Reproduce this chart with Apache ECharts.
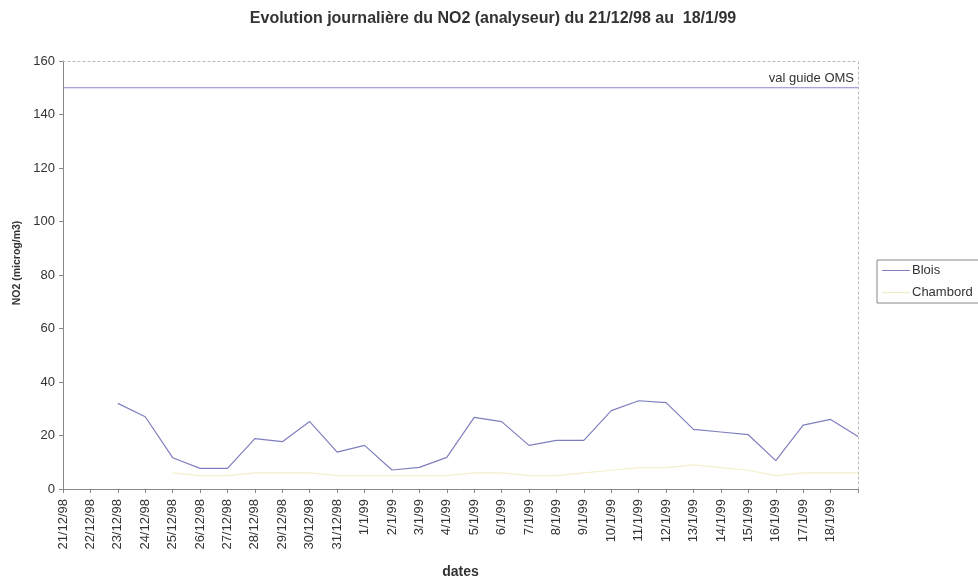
<!DOCTYPE html>
<html>
<head>
<meta charset="utf-8">
<script src="https://cdn.jsdelivr.net/npm/echarts@6/dist/echarts.min.js"></script>
<style>
  html, body { margin: 0; padding: 0; background: #fff; }
  #chart { width: 978px; height: 580px; }
</style>
</head>
<body>
<div id="chart"></div>
<script>
// Daily dates; the last day carries a point but no printed label
const dates = ['21/12/98','22/12/98','23/12/98','24/12/98','25/12/98','26/12/98','27/12/98',
  '28/12/98','29/12/98','30/12/98','31/12/98','1/1/99','2/1/99','3/1/99','4/1/99','5/1/99',
  '6/1/99','7/1/99','8/1/99','9/1/99','10/1/99','11/1/99','12/1/99','13/1/99','14/1/99',
  '15/1/99','16/1/99','17/1/99','18/1/99','19/1/99'];
const tickLabels = ['21/12/98','22/12/98','23/12/98','24/12/98','25/12/98','26/12/98','27/12/98',
  '28/12/98','29/12/98','30/12/98','31/12/98','1/1/99','2/1/99','3/1/99','4/1/99','5/1/99',
  '6/1/99','7/1/99','8/1/99','9/1/99','10/1/99','11/1/99','12/1/99','13/1/99','14/1/99',
  '15/1/99','16/1/99','17/1/99','18/1/99',''];

// NO2 daily means (microg/m3)
const blois = [null, null, 32, 27, 11.7, 7.7, 7.7, 18.8, 17.7, 25.2, 13.8, 16.3, 7.1, 8.1, 11.8,
  26.8, 25.2, 16.3, 18.2, 18.2, 29.3, 33, 32.3, 22.3, 21.3, 20.3, 10.6, 23.9, 26, 19.6];
const chambord = [null, null, null, null, 6, 5, 5, 6, 6, 6, 5, 5, 5, 5, 5,
  6, 6, 5, 5, 6, 7, 8, 8, 9, 8, 7, 5, 6, 6, 6];

// WHO guide value
const guideValue = 150;
const guideLabel = 'val guide OMS';

const yTicks = { min: 0, max: 160, interval: 20 };

const chart = echarts.init(document.getElementById('chart'));
const txt = '#333';
const font = 'Liberation Sans, Arial, sans-serif';
const frame = { color: '#b8b8b8', width: 1, type: [2, 3] };

// horizontal guide line across every date
const guideData = dates.map(() => guideValue);

chart.setOption({
  backgroundColor: '#fff',
  animation: false,
  title: {
    text: 'Evolution journalière du NO2 (analyseur) du 21/12/98 au  18/1/99',
    left: 488, textAlign: 'center', top: 6,
    textStyle: { fontFamily: font, fontSize: 16, fontWeight: 'bold', color: '#333' }
  },
  legend: {
    data: ['Blois', 'Chambord'],
    orient: 'vertical',
    left: 877, top: 260,
    padding: [4, 8, 4, 5],
    itemWidth: 28, itemHeight: 13, itemGap: 9,
    icon: 'path://M0,6 L28,6 L28,7 L0,7 Z',
    borderColor: '#888', borderWidth: 1, borderRadius: 0,
    textStyle: { fontFamily: font, fontSize: 13, color: txt, padding: [0, 0, 0, -3] }
  },
  grid: {
    left: 63, right: 120, top: 61, bottom: 91,
    outerBoundsMode: 'none'
  },
  xAxis: [{
    type: 'category',
    data: dates,
    boundaryGap: false,
    name: 'dates',
    nameLocation: 'middle',
    nameGap: 76,
    nameTextStyle: { fontFamily: font, fontSize: 14, fontWeight: 'bold', color: txt },
    axisLine: { lineStyle: { color: '#888', width: 1 } },
    axisTick: { alignWithLabel: true, length: 4, lineStyle: { color: '#888' } },
    axisLabel: {
      rotate: 90, interval: 0, fontFamily: font, fontSize: 13, color: txt, margin: 10,
      formatter: (v, i) => tickLabels[i]
    },
    splitLine: { show: false }
  }, {
    // dotted frame edge along the top of the plot
    type: 'category',
    data: dates,
    boundaryGap: false,
    position: 'top',
    axisLine: { onZero: false, lineStyle: frame },
    axisTick: { show: false },
    axisLabel: { show: false },
    splitLine: { show: false }
  }],
  yAxis: [{
    type: 'value',
    min: yTicks.min, max: yTicks.max, interval: yTicks.interval,
    name: 'NO2 (microg/m3)',
    nameLocation: 'middle',
    nameGap: 33,
    nameTextStyle: { fontFamily: font, fontSize: 10.5, fontWeight: 'bold', color: txt, padding: [0, 0, 0, 24] },
    axisLine: { show: true, lineStyle: { color: '#888', width: 1 } },
    axisTick: { show: true, length: 4, lineStyle: { color: '#888' } },
    axisLabel: { fontFamily: font, fontSize: 13, color: txt, margin: 8 },
    splitLine: { show: false }
  }, {
    // dotted frame edge along the right of the plot
    type: 'value',
    min: yTicks.min, max: yTicks.max, interval: yTicks.interval,
    position: 'right',
    axisLine: { show: true, onZero: false, lineStyle: frame },
    axisTick: { show: false },
    axisLabel: { show: false },
    splitLine: { show: false }
  }],
  series: [
    {
      name: 'Blois',
      type: 'line',
      data: blois,
      symbol: 'none',
      lineStyle: { color: '#7f7fbf', width: 1.2 },
      itemStyle: { color: '#7f7fbf' },
      z: 3
    },
    {
      name: 'Chambord',
      type: 'line',
      data: chambord,
      symbol: 'none',
      lineStyle: { color: '#f4f0cc', width: 1.2 },
      itemStyle: { color: '#f0ecc0' },
      z: 2
    },
    {
      name: guideLabel,
      type: 'line',
      data: guideData,
      symbol: 'none',
      lineStyle: { color: '#9383cc', width: 1.2 },
      itemStyle: { color: '#9383cc' },
      endLabel: {
        show: true, formatter: guideLabel, distance: 0,
        align: 'right', verticalAlign: 'bottom', offset: [-4, -3],
        fontFamily: font, fontSize: 13, color: txt
      },
      z: 3
    }
  ]
});
</script>
</body>
</html>
